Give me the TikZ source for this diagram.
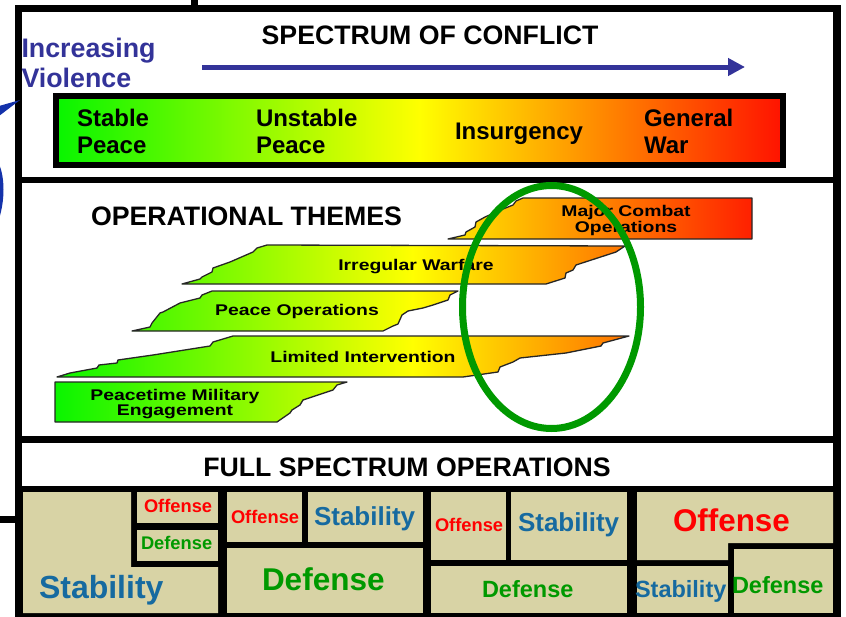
\documentclass[tikz,border=0pt]{standalone}
\usepackage{fontspec}
\setmainfont{Liberation Sans}
\usetikzlibrary{arrows.meta}
\definecolor{vblue}{RGB}{51,51,153}
\definecolor{arcblue}{RGB}{20,50,170}
\definecolor{cg}{RGB}{10,245,0}
\definecolor{cy}{RGB}{255,255,0}
\definecolor{cr}{RGB}{255,20,0}
\definecolor{boxtan}{RGB}{216,211,165}
\definecolor{sred}{RGB}{255,0,0}
\definecolor{sgreen}{RGB}{0,153,0}
\definecolor{sblue}{RGB}{22,106,160}
\definecolor{ringgreen}{RGB}{0,153,0}
\pgfdeclarehorizontalshading{spectrum}{100bp}{color(0bp)=(cg); color(25bp)=(cg); color(50bp)=(cy); color(75bp)=(cr); color(100bp)=(cr)}
\newcommand\fsz[1]{\fontsize{#1}{#1}\selectfont\bfseries}
\newcommand\wide[1]{\scalebox{1.25}[1]{#1}}
\begin{document}
\begin{tikzpicture}[x=1pt,y=-1pt,
  txt/.style={inner sep=0pt,outer sep=0pt,anchor=base west},
  ctxt/.style={inner sep=0pt,outer sep=0pt,anchor=base},
  title/.style={ctxt,font=\fsz{26.7}},
  barlbl/.style={txt,font=\fsz{24}},
  themelbl/.style={ctxt,font=\fsz{15.5}},
  tanbox/.style={fill=boxtan},
  themeshape/.style={draw=black!85,line width=1.3pt,line join=round,
    path picture={\shade[shading=spectrum] (55,185) rectangle (770,430);}},
  offs/.style={txt,text=sred},
  defs/.style={txt,text=sgreen},
  stabs/.style={txt,text=sblue}]
\clip (0,0) rectangle (846,616);
\fill[white] (0,0) rectangle (846,616);
% outer frame and panels
\fill[black] (15,5) rectangle (841,620);
\fill[white] (22,12) rectangle (833,177);
\fill[white] (22,183) rectangle (833,436);
\fill[white] (22,443) rectangle (833,486);
\fill[black] (191,-2) rectangle (198,6);
\fill[black] (-2,516) rectangle (15,523);
% blue arrow remnants at left
\fill[arcblue] (-1,106) -- (20,100) -- (-1,116) -- cycle;
\fill[arcblue] (-1,164) .. controls (5,178) and (5,200) .. (-1,219) -- cycle;
% ---------- top panel ----------
\node[txt,text=vblue,font=\fsz{26.8}] (incr) at (21.5,57) {Increasing};
\node[txt,text=vblue,font=\fsz{26.8}] (viol) at (21.5,87) {Violence};
\node[title] (spec) at (430,44) {SPECTRUM OF CONFLICT};
\coordinate (arrS) at (202,67);
\coordinate (arrE) at (745,67);
\draw[vblue,line width=5pt,-{Triangle[length=17pt,width=17pt]}] (arrS) -- (arrE);
\shade[shading=spectrum] (59,99) rectangle (780,162);
\draw[line width=6pt] (56,96) rectangle (783,165);
\node[barlbl] (stab) at (77,126) {Stable};
\node[barlbl] (stabp) at (77,153) {Peace};
\node[barlbl] (unst) at (256,126) {Unstable};
\node[barlbl] (unstp) at (256,153) {Peace};
\node[barlbl] (insur) at (455,139) {Insurgency};
\node[barlbl] (gen) at (644,126) {General};
\node[barlbl] (war) at (644,153) {War};
% ---------- middle panel ----------
\node[txt,font=\fsz{26.7}] (opth) at (91,225) {OPERATIONAL THEMES};
\path[themeshape] (448,239) -- (465,235) -- (466,232) -- (475,227) -- (476,222) -- (485,217) -- (503,209) -- (513,205) -- (516,201) -- (523,198) -- (752,198) -- (752,239) -- cycle;
\path[themeshape] (182,284) -- (200,279) -- (202,277) -- (212,272) -- (213,268) -- (230,262) -- (253,252) -- (257,248) -- (267,245) -- (625,246) -- (616,252) -- (576,265) -- (573,270) -- (566,273) -- (565,278) -- (546,284) -- cycle;
\path[themeshape] (132,331) -- (150,327) -- (152,323) -- (160,313) -- (163,312) -- (180,303) -- (200,298) -- (202,295) -- (212,291) -- (458,291) -- (450,295) -- (448,300) -- (433,305) -- (423,308) -- (408,311) -- (402,315) -- (398,324) -- (393,326) -- (383,331) -- cycle;
\path[themeshape] (57,377) -- (70,373) -- (97,368) -- (99,365) -- (117,363) -- (118,360) -- (153,355) -- (210,346) -- (213,342) -- (233,336) -- (629,336) -- (603,343) -- (601,346) -- (566,353) -- (520,358) -- (513,362) -- (500,367) -- (498,372) -- (463,377) -- cycle;
\path[themeshape] (55,382) -- (347,382) -- (337,385) -- (333,390) -- (303,400) -- (300,405) -- (292,410) -- (290,413) -- (277,422) -- (55,422) -- cycle;
\node[themelbl] (mco1) at (626,216) {\wide{Major Combat}};
\node[themelbl] (mco2) at (626,232) {\wide{Operations}};
\node[themelbl] (iw) at (416,270) {\wide{Irregular Warfare}};
\node[themelbl] (po) at (297,315) {\wide{Peace Operations}};
\node[themelbl] (li) at (363,362) {\wide{Limited Intervention}};
\node[themelbl] (pme1) at (175,400) {\wide{Peacetime Military}};
\node[themelbl] (pme2) at (175,415) {\wide{Engagement}};
\draw[ringgreen,line width=7pt] (551.5,307) ellipse [x radius=89pt,y radius=121.5pt];
% ---------- bottom panel ----------
\node[title] (fso) at (407,476) {FULL SPECTRUM OPERATIONS};
\fill[tanbox] (23,492) -- (131,492) -- (131,567) -- (218,567) -- (218,613) -- (23,613) -- cycle;
\fill[tanbox] (137,492) rectangle (218,523);
\fill[tanbox] (137,530) rectangle (218,561);
\fill[tanbox] (227,492) rectangle (302,542);
\fill[tanbox] (308,492) rectangle (423,542);
\fill[tanbox] (227,548) rectangle (423,613);
\fill[tanbox] (431,492) rectangle (506,560);
\fill[tanbox] (511,492) rectangle (627,560);
\fill[tanbox] (431,566) rectangle (627,613);
\fill[tanbox] (637,492) -- (833,492) -- (833,543) -- (728,543) -- (728,560) -- (637,560) -- cycle;
\fill[tanbox] (637,566) rectangle (728,613);
\fill[tanbox] (734,549) rectangle (833,613);
\node[stabs,font=\fsz{32}] (st1) at (39,598) {Stability};
\node[offs,font=\fsz{18.3}] (of1) at (144,512) {Offense};
\node[defs,font=\fsz{18.3}] (de1) at (141,549) {Defense};
\node[offs,font=\fsz{18.3}] (of2) at (231,523) {Offense};
\node[stabs,font=\fsz{26}] (st2) at (314,525) {Stability};
\node[defs,font=\fsz{31.5}] (de2) at (262,590) {Defense};
\node[offs,font=\fsz{18.3}] (of3) at (435,531) {Offense};
\node[stabs,font=\fsz{26}] (st3) at (518,531) {Stability};
\node[offs,font=\fsz{31.4}] (of4) at (673,531.5) {Offense};
\node[defs,font=\fsz{23.5}] (de3) at (482,597) {Defense};
\node[stabs,font=\fsz{23.5}] (st4) at (635,597) {Stability};
\node[defs,font=\fsz{23.5}] (de4) at (732,593) {Defense};
\end{tikzpicture}
\end{document}
